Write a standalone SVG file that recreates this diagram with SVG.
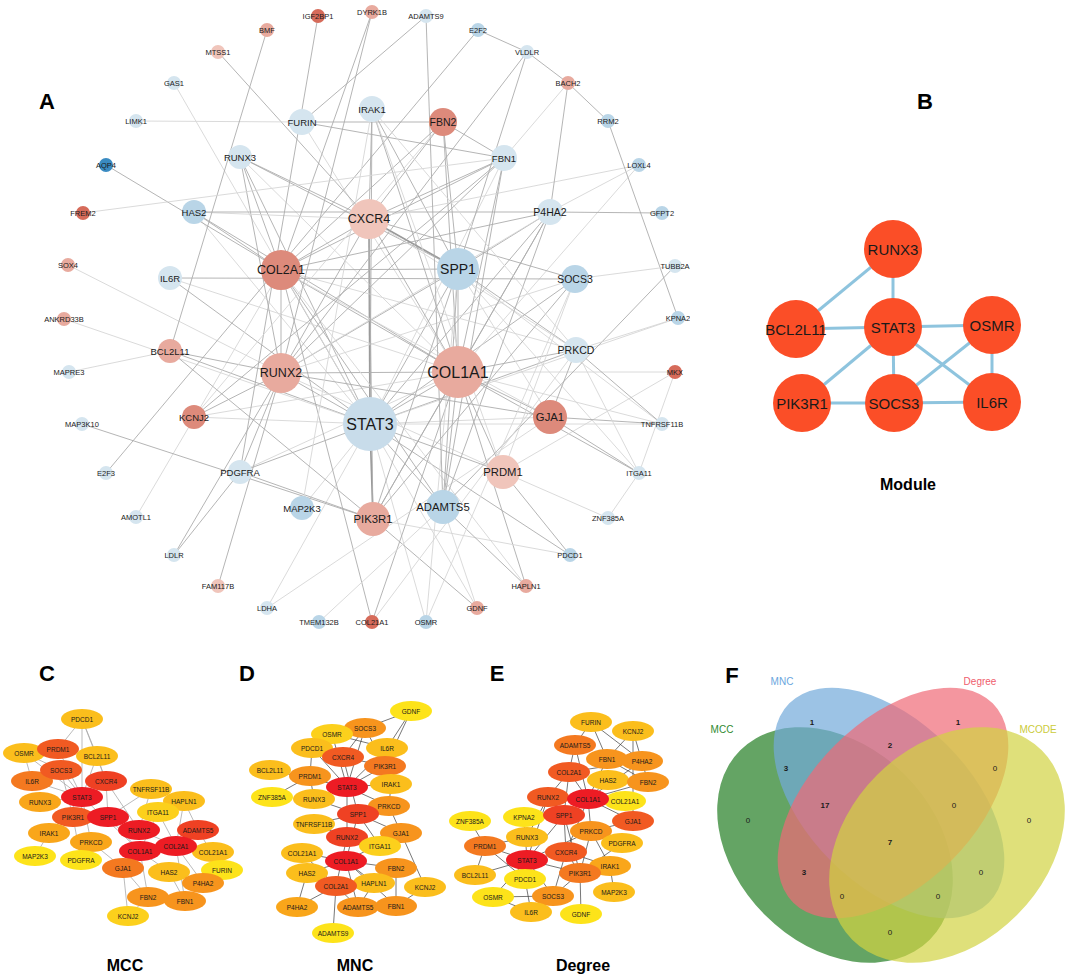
<svg xmlns="http://www.w3.org/2000/svg" width="1065" height="976" viewBox="0 0 1065 976">
<style>
text{font-family:"Liberation Sans",Arial,sans-serif;text-anchor:middle;dominant-baseline:central;fill:#1a1a1a}
.e{stroke:#adadad;stroke-width:0.9}
.f{stroke:#d6d6d6;stroke-width:0.9}
.g{stroke:#9a9a9a;stroke-width:1.7}
.k{stroke:#aaaaaa;stroke-width:0.8}
.m{stroke:#3c3c3c;stroke-width:0.7}
.bl{stroke:#8ec4de;stroke-width:3}
.lb{fill:#d5e5ef}.mb{fill:#b9d5e7}.db{fill:#3a8bc2}.lp{fill:#f0c5bb}.pk{fill:#e8aa9e}.dp{fill:#dd8a7b}.dr{fill:#d66b5a}
.t1{font-size:7.5px}.t2{font-size:9.5px}.t3{font-size:10.5px}.t4{font-size:11.3px}.t5{font-size:12.5px}.t6{font-size:14px}.t7{font-size:16px}
.s{font-size:6.5px}
.pl{font-size:22px;font-weight:bold;fill:#000}
.cap{font-size:16px;font-weight:bold;fill:#000}
.bn{fill:#fb4e27}
.bt{font-size:15px}
.vn{font-size:8px}.vb{font-size:8px;font-weight:bold}
.r1{fill:#ed1c24}.r2{fill:#ef4123}.r3{fill:#f15a22}.o1{fill:#f47920}.o2{fill:#f7941d}.o3{fill:#f9a61a}.y1{fill:#fbbe1c}.y2{fill:#fcd01c}.y3{fill:#fde31a}
</style>
<defs>
<clipPath id="clipA"><rect x="0" y="0" width="690" height="640"/></clipPath>
</defs>

<!-- Panel labels -->
<text class="pl" x="47" y="101">A</text>
<text class="pl" x="925" y="101">B</text>
<text class="pl" x="47" y="673">C</text>
<text class="pl" x="247" y="673">D</text>
<text class="pl" x="497" y="673">E</text>
<text class="pl" x="732" y="675">F</text>

<g id="connectors">
<g id="connectors-A" clip-path="url(#clipA)">
<line class="g" x1="370" y1="424" x2="369" y2="219"/>
<line class="e" x1="370" y1="424" x2="458" y2="269"/>
<line class="e" x1="370" y1="424" x2="458" y2="372"/>
<line class="e" x1="370" y1="424" x2="281" y2="270"/>
<line class="e" x1="370" y1="424" x2="281" y2="373"/>
<line class="g" x1="370" y1="424" x2="373" y2="519"/>
<line class="e" x1="370" y1="424" x2="575" y2="279"/>
<line class="e" x1="370" y1="424" x2="170" y2="278"/>
<line class="f" x1="370" y1="424" x2="194" y2="417"/>
<line class="e" x1="370" y1="424" x2="240" y2="472"/>
<line class="e" x1="370" y1="424" x2="503" y2="472"/>
<line class="f" x1="370" y1="424" x2="550" y2="417"/>
<line class="e" x1="370" y1="424" x2="576" y2="350"/>
<line class="e" x1="370" y1="424" x2="170" y2="351"/>
<line class="e" x1="370" y1="424" x2="372" y2="109"/>
<line class="e" x1="370" y1="424" x2="240" y2="157"/>
<line class="f" x1="370" y1="424" x2="174" y2="83"/>
<line class="f" x1="370" y1="424" x2="64" y2="319"/>
<line class="f" x1="370" y1="424" x2="426" y2="622"/>
<line class="e" x1="370" y1="424" x2="570" y2="555"/>
<line class="f" x1="370" y1="424" x2="678" y2="318"/>
<line class="f" x1="370" y1="424" x2="302" y2="508"/>
<line class="f" x1="370" y1="424" x2="504" y2="158"/>
<line class="e" x1="370" y1="424" x2="550" y2="212"/>
<line class="f" x1="370" y1="424" x2="194" y2="212"/>
<line class="e" x1="370" y1="424" x2="443" y2="507"/>
<line class="f" x1="370" y1="424" x2="267" y2="608"/>
<line class="f" x1="370" y1="424" x2="477" y2="608"/>
<line class="f" x1="370" y1="424" x2="662" y2="424"/>
<line class="e" x1="458" y1="372" x2="281" y2="270"/>
<line class="e" x1="458" y1="372" x2="458" y2="269"/>
<line class="e" x1="458" y1="372" x2="281" y2="373"/>
<line class="e" x1="458" y1="372" x2="369" y2="219"/>
<line class="e" x1="458" y1="372" x2="504" y2="158"/>
<line class="e" x1="458" y1="372" x2="443" y2="122"/>
<line class="e" x1="458" y1="372" x2="550" y2="212"/>
<line class="e" x1="458" y1="372" x2="194" y2="212"/>
<line class="e" x1="458" y1="372" x2="550" y2="417"/>
<line class="f" x1="458" y1="372" x2="675" y2="372"/>
<line class="e" x1="458" y1="372" x2="576" y2="350"/>
<line class="f" x1="458" y1="372" x2="662" y2="424"/>
<line class="e" x1="458" y1="372" x2="639" y2="473"/>
<line class="e" x1="458" y1="372" x2="443" y2="507"/>
<line class="e" x1="458" y1="372" x2="372" y2="622"/>
<line class="e" x1="458" y1="372" x2="373" y2="519"/>
<line class="f" x1="458" y1="372" x2="302" y2="122"/>
<line class="e" x1="458" y1="372" x2="372" y2="109"/>
<line class="f" x1="458" y1="372" x2="240" y2="157"/>
<line class="f" x1="458" y1="372" x2="170" y2="278"/>
<line class="e" x1="458" y1="372" x2="526" y2="586"/>
<line class="f" x1="458" y1="372" x2="194" y2="417"/>
<line class="f" x1="458" y1="372" x2="240" y2="472"/>
<line class="e" x1="458" y1="372" x2="503" y2="472"/>
<line class="f" x1="458" y1="372" x2="639" y2="165"/>
<line class="e" x1="281" y1="270" x2="458" y2="269"/>
<line class="e" x1="281" y1="270" x2="281" y2="373"/>
<line class="e" x1="281" y1="270" x2="194" y2="212"/>
<line class="e" x1="281" y1="270" x2="369" y2="219"/>
<line class="e" x1="281" y1="270" x2="504" y2="158"/>
<line class="e" x1="281" y1="270" x2="443" y2="122"/>
<line class="e" x1="281" y1="270" x2="550" y2="212"/>
<line class="e" x1="281" y1="270" x2="106" y2="165"/>
<line class="e" x1="281" y1="270" x2="443" y2="507"/>
<line class="f" x1="281" y1="270" x2="526" y2="586"/>
<line class="e" x1="281" y1="270" x2="372" y2="622"/>
<line class="f" x1="281" y1="270" x2="550" y2="417"/>
<line class="e" x1="281" y1="270" x2="240" y2="157"/>
<line class="e" x1="281" y1="270" x2="372" y2="12"/>
<line class="f" x1="281" y1="270" x2="576" y2="350"/>
<line class="f" x1="281" y1="270" x2="136" y2="517"/>
<line class="g" x1="458" y1="269" x2="369" y2="219"/>
<line class="e" x1="458" y1="269" x2="281" y2="373"/>
<line class="e" x1="458" y1="269" x2="443" y2="122"/>
<line class="e" x1="458" y1="269" x2="372" y2="109"/>
<line class="e" x1="458" y1="269" x2="550" y2="212"/>
<line class="e" x1="458" y1="269" x2="576" y2="350"/>
<line class="f" x1="458" y1="269" x2="550" y2="417"/>
<line class="e" x1="458" y1="269" x2="373" y2="519"/>
<line class="e" x1="458" y1="269" x2="443" y2="507"/>
<line class="f" x1="458" y1="269" x2="662" y2="424"/>
<line class="f" x1="458" y1="269" x2="639" y2="473"/>
<line class="e" x1="458" y1="269" x2="527" y2="52"/>
<line class="e" x1="458" y1="269" x2="240" y2="157"/>
<line class="f" x1="458" y1="269" x2="426" y2="622"/>
<line class="e" x1="281" y1="373" x2="369" y2="219"/>
<line class="e" x1="281" y1="373" x2="240" y2="157"/>
<line class="f" x1="281" y1="373" x2="68" y2="265"/>
<line class="e" x1="281" y1="373" x2="170" y2="351"/>
<line class="e" x1="281" y1="373" x2="240" y2="472"/>
<line class="e" x1="281" y1="373" x2="218" y2="586"/>
<line class="e" x1="281" y1="373" x2="174" y2="555"/>
<line class="e" x1="281" y1="373" x2="550" y2="417"/>
<line class="f" x1="281" y1="373" x2="503" y2="472"/>
<line class="e" x1="281" y1="373" x2="504" y2="158"/>
<line class="f" x1="281" y1="373" x2="550" y2="212"/>
<line class="f" x1="281" y1="373" x2="575" y2="279"/>
<line class="e" x1="281" y1="373" x2="194" y2="417"/>
<line class="e" x1="281" y1="373" x2="372" y2="12"/>
<line class="e" x1="281" y1="373" x2="527" y2="52"/>
<line class="e" x1="369" y1="219" x2="372" y2="109"/>
<line class="e" x1="369" y1="219" x2="443" y2="122"/>
<line class="e" x1="369" y1="219" x2="218" y2="52"/>
<line class="f" x1="369" y1="219" x2="639" y2="165"/>
<line class="e" x1="369" y1="219" x2="373" y2="519"/>
<line class="e" x1="369" y1="219" x2="575" y2="279"/>
<line class="f" x1="369" y1="219" x2="576" y2="350"/>
<line class="e" x1="369" y1="219" x2="240" y2="157"/>
<line class="f" x1="369" y1="219" x2="194" y2="212"/>
<line class="e" x1="369" y1="219" x2="504" y2="158"/>
<line class="f" x1="136" y1="121" x2="302" y2="122"/>
<line class="e" x1="302" y1="122" x2="443" y2="122"/>
<line class="e" x1="302" y1="122" x2="504" y2="158"/>
<line class="e" x1="302" y1="122" x2="426" y2="16"/>
<line class="e" x1="426" y1="16" x2="443" y2="507"/>
<line class="e" x1="318" y1="16" x2="240" y2="472"/>
<line class="e" x1="267" y1="30" x2="170" y2="351"/>
<line class="e" x1="478" y1="30" x2="106" y2="473"/>
<line class="e" x1="478" y1="30" x2="527" y2="52"/>
<line class="e" x1="527" y1="52" x2="568" y2="83"/>
<line class="e" x1="568" y1="83" x2="608" y2="121"/>
<line class="e" x1="568" y1="83" x2="550" y2="212"/>
<line class="f" x1="568" y1="83" x2="504" y2="158"/>
<line class="e" x1="608" y1="121" x2="678" y2="318"/>
<line class="f" x1="639" y1="165" x2="550" y2="212"/>
<line class="e" x1="662" y1="213" x2="550" y2="212"/>
<line class="e" x1="194" y1="212" x2="550" y2="212"/>
<line class="f" x1="675" y1="266" x2="575" y2="279"/>
<line class="e" x1="675" y1="266" x2="443" y2="507"/>
<line class="f" x1="678" y1="318" x2="576" y2="350"/>
<line class="f" x1="675" y1="372" x2="639" y2="473"/>
<line class="f" x1="675" y1="372" x2="503" y2="472"/>
<line class="f" x1="639" y1="473" x2="608" y2="518"/>
<line class="e" x1="550" y1="417" x2="662" y2="424"/>
<line class="e" x1="550" y1="417" x2="639" y2="473"/>
<line class="e" x1="550" y1="417" x2="576" y2="350"/>
<line class="e" x1="576" y1="350" x2="662" y2="424"/>
<line class="f" x1="576" y1="350" x2="639" y2="473"/>
<line class="f" x1="608" y1="518" x2="503" y2="472"/>
<line class="e" x1="570" y1="555" x2="503" y2="472"/>
<line class="f" x1="570" y1="555" x2="373" y2="519"/>
<line class="e" x1="526" y1="586" x2="443" y2="507"/>
<line class="e" x1="477" y1="608" x2="373" y2="519"/>
<line class="f" x1="477" y1="608" x2="443" y2="507"/>
<line class="f" x1="372" y1="622" x2="576" y2="350"/>
<line class="f" x1="319" y1="622" x2="443" y2="507"/>
<line class="f" x1="267" y1="608" x2="550" y2="417"/>
<line class="e" x1="174" y1="555" x2="240" y2="472"/>
<line class="e" x1="82" y1="424" x2="373" y2="519"/>
<line class="f" x1="69" y1="372" x2="170" y2="351"/>
<line class="f" x1="83" y1="213" x2="504" y2="158"/>
<line class="e" x1="170" y1="278" x2="575" y2="279"/>
<line class="e" x1="373" y1="519" x2="240" y2="472"/>
<line class="f" x1="302" y1="508" x2="372" y2="109"/>
<line class="e" x1="550" y1="212" x2="443" y2="507"/>
<line class="e" x1="550" y1="212" x2="373" y2="519"/>
<line class="e" x1="504" y1="158" x2="443" y2="122"/>
<line class="e" x1="504" y1="158" x2="443" y2="507"/>
<line class="e" x1="575" y1="279" x2="373" y2="519"/>
<line class="f" x1="575" y1="279" x2="503" y2="472"/>
<line class="e" x1="170" y1="351" x2="373" y2="519"/>
<line class="f" x1="194" y1="417" x2="443" y2="122"/>
<line class="e" x1="194" y1="417" x2="504" y2="158"/>
<line class="f" x1="372" y1="109" x2="576" y2="350"/>
<line class="f" x1="372" y1="109" x2="503" y2="472"/>
<line class="f" x1="426" y1="622" x2="575" y2="279"/>
</g>
<g id="connectors-B">
<line class="bl" x1="893" y1="249" x2="796" y2="329"/>
<line class="bl" x1="893" y1="249" x2="893" y2="327"/>
<line class="bl" x1="796" y1="329" x2="893" y2="327"/>
<line class="bl" x1="893" y1="327" x2="992" y2="325"/>
<line class="bl" x1="893" y1="327" x2="802" y2="403"/>
<line class="bl" x1="893" y1="327" x2="894" y2="403"/>
<line class="bl" x1="893" y1="327" x2="992" y2="402"/>
<line class="bl" x1="992" y1="325" x2="894" y2="403"/>
<line class="bl" x1="992" y1="325" x2="992" y2="402"/>
<line class="bl" x1="802" y1="403" x2="894" y2="403"/>
<line class="bl" x1="894" y1="403" x2="992" y2="402"/>
</g>
<g id="connectors-C">
<line class="k" x1="82" y1="719" x2="58" y2="749"/>
<line class="k" x1="82" y1="719" x2="97" y2="756"/>
<line class="k" x1="82" y1="719" x2="82" y2="797"/>
<line class="k" x1="82" y1="719" x2="106" y2="781"/>
<line class="k" x1="24" y1="753" x2="61" y2="770"/>
<line class="k" x1="24" y1="753" x2="32" y2="781"/>
<line class="k" x1="24" y1="753" x2="82" y2="797"/>
<line class="k" x1="58" y1="749" x2="82" y2="797"/>
<line class="k" x1="97" y1="756" x2="82" y2="797"/>
<line class="k" x1="97" y1="756" x2="106" y2="781"/>
<line class="k" x1="61" y1="770" x2="82" y2="797"/>
<line class="k" x1="61" y1="770" x2="73" y2="817"/>
<line class="k" x1="32" y1="781" x2="82" y2="797"/>
<line class="k" x1="106" y1="781" x2="108" y2="817"/>
<line class="k" x1="106" y1="781" x2="73" y2="817"/>
<line class="k" x1="106" y1="781" x2="139" y2="830"/>
<line class="k" x1="82" y1="797" x2="40" y2="802"/>
<line class="k" x1="82" y1="797" x2="49" y2="833"/>
<line class="k" x1="82" y1="797" x2="91" y2="842"/>
<line class="k" x1="82" y1="797" x2="140" y2="851"/>
<line class="k" x1="151" y1="789" x2="108" y2="817"/>
<line class="k" x1="151" y1="789" x2="139" y2="830"/>
<line class="k" x1="184" y1="801" x2="198" y2="830"/>
<line class="k" x1="184" y1="801" x2="176" y2="846"/>
<line class="k" x1="158" y1="812" x2="140" y2="851"/>
<line class="k" x1="158" y1="812" x2="176" y2="846"/>
<line class="k" x1="108" y1="817" x2="140" y2="851"/>
<line class="k" x1="73" y1="817" x2="81" y2="860"/>
<line class="k" x1="73" y1="817" x2="49" y2="833"/>
<line class="k" x1="91" y1="842" x2="123" y2="868"/>
<line class="k" x1="49" y1="833" x2="35" y2="856"/>
<line class="k" x1="140" y1="851" x2="123" y2="868"/>
<line class="k" x1="140" y1="851" x2="169" y2="872"/>
<line class="k" x1="140" y1="851" x2="148" y2="897"/>
<line class="k" x1="176" y1="846" x2="198" y2="830"/>
<line class="k" x1="176" y1="846" x2="213" y2="852"/>
<line class="k" x1="176" y1="846" x2="203" y2="883"/>
<line class="k" x1="176" y1="846" x2="185" y2="901"/>
<line class="k" x1="203" y1="883" x2="185" y2="901"/>
<line class="k" x1="169" y1="872" x2="185" y2="901"/>
<line class="k" x1="148" y1="897" x2="128" y2="916"/>
<line class="k" x1="123" y1="868" x2="128" y2="916"/>
<line class="k" x1="123" y1="868" x2="148" y2="897"/>
<line class="k" x1="198" y1="830" x2="222" y2="870"/>
<line class="k" x1="139" y1="830" x2="176" y2="846"/>
</g>
<g id="connectors-D">
<line class="m" x1="411" y1="711" x2="365" y2="728"/>
<line class="m" x1="411" y1="711" x2="387" y2="748"/>
<line class="m" x1="411" y1="711" x2="385" y2="766"/>
<line class="m" x1="365" y1="728" x2="332" y2="734"/>
<line class="m" x1="365" y1="728" x2="347" y2="787"/>
<line class="m" x1="365" y1="728" x2="343" y2="757"/>
<line class="m" x1="365" y1="728" x2="385" y2="766"/>
<line class="m" x1="332" y1="734" x2="387" y2="748"/>
<line class="m" x1="332" y1="734" x2="347" y2="787"/>
<line class="m" x1="312" y1="748" x2="310" y2="776"/>
<line class="m" x1="312" y1="748" x2="347" y2="787"/>
<line class="m" x1="387" y1="748" x2="347" y2="787"/>
<line class="m" x1="343" y1="757" x2="358" y2="814"/>
<line class="m" x1="343" y1="757" x2="385" y2="766"/>
<line class="m" x1="385" y1="766" x2="347" y2="787"/>
<line class="m" x1="270" y1="770" x2="347" y2="787"/>
<line class="m" x1="310" y1="776" x2="314" y2="799"/>
<line class="m" x1="391" y1="784" x2="347" y2="787"/>
<line class="m" x1="391" y1="784" x2="389" y2="806"/>
<line class="m" x1="272" y1="797" x2="310" y2="776"/>
<line class="m" x1="314" y1="799" x2="358" y2="814"/>
<line class="m" x1="389" y1="806" x2="347" y2="787"/>
<line class="m" x1="389" y1="806" x2="401" y2="833"/>
<line class="m" x1="347" y1="787" x2="347" y2="837"/>
<line class="m" x1="358" y1="814" x2="314" y2="824"/>
<line class="m" x1="358" y1="814" x2="401" y2="833"/>
<line class="m" x1="358" y1="814" x2="380" y2="846"/>
<line class="m" x1="358" y1="814" x2="346" y2="861"/>
<line class="m" x1="314" y1="824" x2="347" y2="837"/>
<line class="m" x1="401" y1="833" x2="346" y2="861"/>
<line class="m" x1="401" y1="833" x2="425" y2="887"/>
<line class="m" x1="347" y1="837" x2="336" y2="886"/>
<line class="m" x1="302" y1="853" x2="346" y2="861"/>
<line class="m" x1="302" y1="853" x2="336" y2="886"/>
<line class="m" x1="346" y1="861" x2="396" y2="868"/>
<line class="m" x1="346" y1="861" x2="307" y2="873"/>
<line class="m" x1="346" y1="861" x2="374" y2="883"/>
<line class="m" x1="346" y1="861" x2="396" y2="906"/>
<line class="m" x1="346" y1="861" x2="358" y2="907"/>
<line class="m" x1="307" y1="873" x2="297" y2="907"/>
<line class="m" x1="336" y1="886" x2="297" y2="907"/>
<line class="m" x1="336" y1="886" x2="358" y2="907"/>
<line class="m" x1="336" y1="886" x2="333" y2="933"/>
<line class="m" x1="396" y1="868" x2="396" y2="906"/>
<line class="m" x1="396" y1="906" x2="425" y2="887"/>
<line class="m" x1="358" y1="907" x2="396" y2="906"/>
<line class="m" x1="374" y1="883" x2="358" y2="907"/>
<line class="m" x1="307" y1="873" x2="336" y2="886"/>
</g>
<g id="connectors-E">
<line class="m" x1="591" y1="722" x2="607" y2="759"/>
<line class="m" x1="591" y1="722" x2="575" y2="745"/>
<line class="m" x1="591" y1="722" x2="642" y2="761"/>
<line class="m" x1="633" y1="731" x2="607" y2="759"/>
<line class="m" x1="633" y1="731" x2="648" y2="782"/>
<line class="m" x1="633" y1="731" x2="633" y2="821"/>
<line class="m" x1="575" y1="745" x2="569" y2="772"/>
<line class="m" x1="575" y1="745" x2="588" y2="799"/>
<line class="m" x1="607" y1="759" x2="648" y2="782"/>
<line class="m" x1="607" y1="759" x2="588" y2="799"/>
<line class="m" x1="642" y1="761" x2="588" y2="799"/>
<line class="m" x1="642" y1="761" x2="569" y2="772"/>
<line class="m" x1="569" y1="772" x2="548" y2="797"/>
<line class="m" x1="569" y1="772" x2="588" y2="799"/>
<line class="m" x1="569" y1="772" x2="564" y2="815"/>
<line class="m" x1="608" y1="780" x2="588" y2="799"/>
<line class="m" x1="648" y1="782" x2="588" y2="799"/>
<line class="m" x1="548" y1="797" x2="588" y2="799"/>
<line class="m" x1="548" y1="797" x2="527" y2="860"/>
<line class="m" x1="548" y1="797" x2="527" y2="837"/>
<line class="m" x1="588" y1="799" x2="564" y2="815"/>
<line class="m" x1="588" y1="799" x2="633" y2="821"/>
<line class="m" x1="588" y1="799" x2="591" y2="831"/>
<line class="m" x1="588" y1="799" x2="566" y2="852"/>
<line class="m" x1="470" y1="821" x2="485" y2="846"/>
<line class="m" x1="524" y1="817" x2="527" y2="860"/>
<line class="m" x1="564" y1="815" x2="527" y2="860"/>
<line class="m" x1="564" y1="815" x2="566" y2="852"/>
<line class="m" x1="564" y1="815" x2="580" y2="873"/>
<line class="m" x1="633" y1="821" x2="591" y2="831"/>
<line class="m" x1="591" y1="831" x2="527" y2="860"/>
<line class="m" x1="591" y1="831" x2="610" y2="866"/>
<line class="m" x1="591" y1="831" x2="580" y2="873"/>
<line class="m" x1="527" y1="837" x2="485" y2="846"/>
<line class="m" x1="622" y1="843" x2="580" y2="873"/>
<line class="m" x1="485" y1="846" x2="527" y2="860"/>
<line class="m" x1="485" y1="846" x2="475" y2="875"/>
<line class="m" x1="485" y1="846" x2="525" y2="879"/>
<line class="m" x1="566" y1="852" x2="527" y2="860"/>
<line class="m" x1="566" y1="852" x2="580" y2="873"/>
<line class="m" x1="566" y1="852" x2="553" y2="896"/>
<line class="m" x1="566" y1="852" x2="610" y2="866"/>
<line class="m" x1="527" y1="860" x2="475" y2="875"/>
<line class="m" x1="527" y1="860" x2="493" y2="897"/>
<line class="m" x1="527" y1="860" x2="553" y2="896"/>
<line class="m" x1="527" y1="860" x2="580" y2="873"/>
<line class="m" x1="610" y1="866" x2="614" y2="892"/>
<line class="m" x1="580" y1="873" x2="581" y2="914"/>
<line class="m" x1="580" y1="873" x2="553" y2="896"/>
<line class="m" x1="493" y1="897" x2="553" y2="896"/>
<line class="m" x1="493" y1="897" x2="531" y2="912"/>
<line class="m" x1="553" y1="896" x2="531" y2="912"/>
<line class="m" x1="525" y1="879" x2="531" y2="912"/>
</g>
</g>

<!-- Panel A nodes -->
<g id="panelA" clip-path="url(#clipA)">
<g id="a-IGF2BP1"><circle class="dr" cx="318" cy="16" r="7"/><text class="t1" x="318" y="16">IGF2BP1</text></g>
<g id="a-BMF"><circle class="pk" cx="267" cy="30" r="7"/><text class="t1" x="267" y="30">BMF</text></g>
<g id="a-DYRK1B"><circle class="pk" cx="372" cy="12" r="7"/><text class="t1" x="372" y="12">DYRK1B</text></g>
<g id="a-ADAMTS9"><circle class="lb" cx="426" cy="16" r="7"/><text class="t1" x="426" y="16">ADAMTS9</text></g>
<g id="a-E2F2"><circle class="mb" cx="478" cy="30" r="7"/><text class="t1" x="478" y="30">E2F2</text></g>
<g id="a-MTSS1"><circle class="lp" cx="218" cy="52" r="7"/><text class="t1" x="218" y="52">MTSS1</text></g>
<g id="a-VLDLR"><circle class="lb" cx="527" cy="52" r="7"/><text class="t1" x="527" y="52">VLDLR</text></g>
<g id="a-GAS1"><circle class="lb" cx="174" cy="83" r="7"/><text class="t1" x="174" y="83">GAS1</text></g>
<g id="a-BACH2"><circle class="pk" cx="568" cy="83" r="7"/><text class="t1" x="568" y="83">BACH2</text></g>
<g id="a-LIMK1"><circle class="lb" cx="136" cy="121" r="7"/><text class="t1" x="136" y="121">LIMK1</text></g>
<g id="a-RRM2"><circle class="mb" cx="608" cy="121" r="7"/><text class="t1" x="608" y="121">RRM2</text></g>
<g id="a-AQP4"><circle class="db" cx="106" cy="165" r="7"/><text class="t1" x="106" y="165">AQP4</text></g>
<g id="a-LOXL4"><circle class="mb" cx="639" cy="165" r="7"/><text class="t1" x="639" y="165">LOXL4</text></g>
<g id="a-FREM2"><circle class="dr" cx="83" cy="213" r="7"/><text class="t1" x="83" y="213">FREM2</text></g>
<g id="a-GFPT2"><circle class="mb" cx="662" cy="213" r="7"/><text class="t1" x="662" y="213">GFPT2</text></g>
<g id="a-SOX4"><circle class="pk" cx="68" cy="265" r="7"/><text class="t1" x="68" y="265">SOX4</text></g>
<g id="a-TUBB2A"><circle class="lb" cx="675" cy="266" r="7"/><text class="t1" x="675" y="266">TUBB2A</text></g>
<g id="a-ANKRD33B"><circle class="pk" cx="64" cy="319" r="7"/><text class="t1" x="64" y="319">ANKRD33B</text></g>
<g id="a-KPNA2"><circle class="mb" cx="678" cy="318" r="7"/><text class="t1" x="678" y="318">KPNA2</text></g>
<g id="a-MAPRE3"><circle class="lb" cx="69" cy="372" r="7"/><text class="t1" x="69" y="372">MAPRE3</text></g>
<g id="a-MKX"><circle class="dr" cx="675" cy="372" r="7"/><text class="t1" x="675" y="372">MKX</text></g>
<g id="a-MAP3K10"><circle class="lb" cx="82" cy="424" r="7"/><text class="t1" x="82" y="424">MAP3K10</text></g>
<g id="a-TNFRSF11B"><circle class="lb" cx="662" cy="424" r="7"/><text class="t1" x="662" y="424">TNFRSF11B</text></g>
<g id="a-E2F3"><circle class="lb" cx="106" cy="473" r="7"/><text class="t1" x="106" y="473">E2F3</text></g>
<g id="a-ITGA11"><circle class="lb" cx="639" cy="473" r="7"/><text class="t1" x="639" y="473">ITGA11</text></g>
<g id="a-AMOTL1"><circle class="lb" cx="136" cy="517" r="7"/><text class="t1" x="136" y="517">AMOTL1</text></g>
<g id="a-ZNF385A"><circle class="lb" cx="608" cy="518" r="7"/><text class="t1" x="608" y="518">ZNF385A</text></g>
<g id="a-LDLR"><circle class="lb" cx="174" cy="555" r="7"/><text class="t1" x="174" y="555">LDLR</text></g>
<g id="a-PDCD1"><circle class="mb" cx="570" cy="555" r="7"/><text class="t1" x="570" y="555">PDCD1</text></g>
<g id="a-FAM117B"><circle class="lp" cx="218" cy="586" r="7"/><text class="t1" x="218" y="586">FAM117B</text></g>
<g id="a-HAPLN1"><circle class="pk" cx="526" cy="586" r="7"/><text class="t1" x="526" y="586">HAPLN1</text></g>
<g id="a-LDHA"><circle class="lb" cx="267" cy="608" r="7"/><text class="t1" x="267" y="608">LDHA</text></g>
<g id="a-GDNF"><circle class="pk" cx="477" cy="608" r="7"/><text class="t1" x="477" y="608">GDNF</text></g>
<g id="a-TMEM132B"><circle class="mb" cx="319" cy="622" r="7"/><text class="t1" x="319" y="622">TMEM132B</text></g>
<g id="a-OSMR"><circle class="mb" cx="426" cy="622" r="7"/><text class="t1" x="426" y="622">OSMR</text></g>
<g id="a-COL21A1"><circle class="dr" cx="372" cy="622" r="7"/><text class="t1" x="372" y="622">COL21A1</text></g>
<g id="a-FURIN"><circle class="lb" cx="302" cy="122" r="13"/><text class="t2" x="302" y="122">FURIN</text></g>
<g id="a-IRAK1"><circle class="lb" cx="372" cy="109" r="13"/><text class="t2" x="372" y="109">IRAK1</text></g>
<g id="a-FBN2"><circle class="dp" cx="443" cy="122" r="14"/><text class="t3" x="443" y="122">FBN2</text></g>
<g id="a-RUNX3"><circle class="lb" cx="240" cy="157" r="12"/><text class="t2" x="240" y="157">RUNX3</text></g>
<g id="a-FBN1"><circle class="lb" cx="504" cy="158" r="13"/><text class="t2" x="504" y="158">FBN1</text></g>
<g id="a-HAS2"><circle class="mb" cx="194" cy="212" r="12"/><text class="t2" x="194" y="212">HAS2</text></g>
<g id="a-P4HA2"><circle class="lb" cx="550" cy="212" r="13"/><text class="t3" x="550" y="212">P4HA2</text></g>
<g id="a-IL6R"><circle class="lb" cx="170" cy="278" r="12"/><text class="t2" x="170" y="278">IL6R</text></g>
<g id="a-SOCS3"><circle class="mb" cx="575" cy="279" r="14"/><text class="t3" x="575" y="279">SOCS3</text></g>
<g id="a-BCL2L11"><circle class="pk" cx="170" cy="351" r="12"/><text class="t2" x="170" y="351">BCL2L11</text></g>
<g id="a-PRKCD"><circle class="lb" cx="576" cy="350" r="13"/><text class="t3" x="576" y="350">PRKCD</text></g>
<g id="a-KCNJ2"><circle class="dp" cx="194" cy="417" r="12"/><text class="t2" x="194" y="417">KCNJ2</text></g>
<g id="a-GJA1"><circle class="dp" cx="550" cy="417" r="17"/><text class="t4" x="550" y="417">GJA1</text></g>
<g id="a-PDGFRA"><circle class="lb" cx="240" cy="472" r="12"/><text class="t2" x="240" y="472">PDGFRA</text></g>
<g id="a-PRDM1"><circle class="lp" cx="503" cy="472" r="17"/><text class="t4" x="503" y="472">PRDM1</text></g>
<g id="a-MAP2K3"><circle class="mb" cx="302" cy="508" r="12"/><text class="t2" x="302" y="508">MAP2K3</text></g>
<g id="a-ADAMTS5"><circle class="mb" cx="443" cy="507" r="17"/><text class="t4" x="443" y="507">ADAMTS5</text></g>
<g id="a-PIK3R1"><circle class="pk" cx="373" cy="519" r="17"/><text class="t4" x="373" y="519">PIK3R1</text></g>
<g id="a-CXCR4"><circle class="lp" cx="369" cy="219" r="20"/><text class="t5" x="369" y="219">CXCR4</text></g>
<g id="a-COL2A1"><circle class="dp" cx="281" cy="270" r="20"/><text class="t5" x="281" y="270">COL2A1</text></g>
<g id="a-SPP1"><circle class="mb" cx="458" cy="269" r="21"/><text class="t6" x="458" y="269">SPP1</text></g>
<g id="a-RUNX2"><circle class="pk" cx="281" cy="373" r="20"/><text class="t5" x="281" y="373">RUNX2</text></g>
<g id="a-COL1A1"><circle class="pk" cx="458" cy="372" r="26"/><text class="t7" x="458" y="372">COL1A1</text></g>
<g id="a-STAT3"><circle fill="#c8dcea" cx="370" cy="424" r="27"/><text class="t7" x="370" y="424">STAT3</text></g>
</g>

<!-- Panel B -->
<g id="b-RUNX3"><circle class="bn" cx="893" cy="249" r="29"/><text class="bt" x="893" y="249">RUNX3</text></g>
<g id="b-BCL2L11"><circle class="bn" cx="796" cy="329" r="29"/><text class="bt" x="796" y="329">BCL2L11</text></g>
<g id="b-STAT3"><circle class="bn" cx="893" cy="327" r="29"/><text class="bt" x="893" y="327">STAT3</text></g>
<g id="b-OSMR"><circle class="bn" cx="992" cy="325" r="29"/><text class="bt" x="992" y="325">OSMR</text></g>
<g id="b-PIK3R1"><circle class="bn" cx="802" cy="403" r="29"/><text class="bt" x="802" y="403">PIK3R1</text></g>
<g id="b-SOCS3"><circle class="bn" cx="894" cy="403" r="29"/><text class="bt" x="894" y="403">SOCS3</text></g>
<g id="b-IL6R"><circle class="bn" cx="992" cy="402" r="29"/><text class="bt" x="992" y="402">IL6R</text></g>
<text class="cap" x="908" y="484">Module</text>

<!-- Panel C -->
<g id="panelC">
<g id="c-PDCD1"><ellipse class="y1" cx="82" cy="719" rx="21" ry="10"/><text class="s" x="82" y="719">PDCD1</text></g>
<g id="c-OSMR"><ellipse class="y1" cx="24" cy="753" rx="21" ry="10"/><text class="s" x="24" y="753">OSMR</text></g>
<g id="c-PRDM1"><ellipse class="r3" cx="58" cy="749" rx="21" ry="10"/><text class="s" x="58" y="749">PRDM1</text></g>
<g id="c-BCL2L11"><ellipse class="y1" cx="97" cy="756" rx="21" ry="10"/><text class="s" x="97" y="756">BCL2L11</text></g>
<g id="c-IL6R"><ellipse class="o1" cx="32" cy="781" rx="21" ry="10"/><text class="s" x="32" y="781">IL6R</text></g>
<g id="c-SOCS3"><ellipse class="r3" cx="61" cy="770" rx="21" ry="10"/><text class="s" x="61" y="770">SOCS3</text></g>
<g id="c-CXCR4"><ellipse class="r2" cx="106" cy="781" rx="21" ry="10"/><text class="s" x="106" y="781">CXCR4</text></g>
<g id="c-TNFRSF11B"><ellipse class="y1" cx="151" cy="789" rx="21" ry="10"/><text class="s" x="151" y="789">TNFRSF11B</text></g>
<g id="c-RUNX3"><ellipse class="o3" cx="40" cy="802" rx="21" ry="10"/><text class="s" x="40" y="802">RUNX3</text></g>
<g id="c-STAT3"><ellipse class="r1" cx="82" cy="797" rx="21" ry="10"/><text class="s" x="82" y="797">STAT3</text></g>
<g id="c-HAPLN1"><ellipse class="y1" cx="184" cy="801" rx="21" ry="10"/><text class="s" x="184" y="801">HAPLN1</text></g>
<g id="c-ITGA11"><ellipse class="y2" cx="158" cy="812" rx="21" ry="10"/><text class="s" x="158" y="812">ITGA11</text></g>
<g id="c-PIK3R1"><ellipse class="r3" cx="73" cy="817" rx="21" ry="10"/><text class="s" x="73" y="817">PIK3R1</text></g>
<g id="c-SPP1"><ellipse class="r1" cx="108" cy="817" rx="21" ry="10"/><text class="s" x="108" y="817">SPP1</text></g>
<g id="c-RUNX2"><ellipse class="r1" cx="139" cy="830" rx="21" ry="10"/><text class="s" x="139" y="830">RUNX2</text></g>
<g id="c-ADAMTS5"><ellipse class="r2" cx="198" cy="830" rx="21" ry="10"/><text class="s" x="198" y="830">ADAMTS5</text></g>
<g id="c-IRAK1"><ellipse class="o3" cx="49" cy="833" rx="21" ry="10"/><text class="s" x="49" y="833">IRAK1</text></g>
<g id="c-PRKCD"><ellipse class="o3" cx="91" cy="842" rx="21" ry="10"/><text class="s" x="91" y="842">PRKCD</text></g>
<g id="c-COL21A1"><ellipse class="y1" cx="213" cy="852" rx="21" ry="10"/><text class="s" x="213" y="852">COL21A1</text></g>
<g id="c-COL2A1"><ellipse class="r1" cx="176" cy="846" rx="21" ry="10"/><text class="s" x="176" y="846">COL2A1</text></g>
<g id="c-COL1A1"><ellipse class="r1" cx="140" cy="851" rx="21" ry="10"/><text class="s" x="140" y="851">COL1A1</text></g>
<g id="c-MAP2K3"><ellipse class="y3" cx="35" cy="856" rx="21" ry="10"/><text class="s" x="35" y="856">MAP2K3</text></g>
<g id="c-PDGFRA"><ellipse class="y3" cx="81" cy="860" rx="21" ry="10"/><text class="s" x="81" y="860">PDGFRA</text></g>
<g id="c-FURIN"><ellipse class="y3" cx="222" cy="870" rx="21" ry="10"/><text class="s" x="222" y="870">FURIN</text></g>
<g id="c-GJA1"><ellipse class="o1" cx="123" cy="868" rx="21" ry="10"/><text class="s" x="123" y="868">GJA1</text></g>
<g id="c-HAS2"><ellipse class="y1" cx="169" cy="872" rx="21" ry="10"/><text class="s" x="169" y="872">HAS2</text></g>
<g id="c-P4HA2"><ellipse class="o2" cx="203" cy="883" rx="21" ry="10"/><text class="s" x="203" y="883">P4HA2</text></g>
<g id="c-FBN1"><ellipse class="o2" cx="185" cy="901" rx="21" ry="10"/><text class="s" x="185" y="901">FBN1</text></g>
<g id="c-FBN2"><ellipse class="o2" cx="148" cy="897" rx="21" ry="10"/><text class="s" x="148" y="897">FBN2</text></g>
<g id="c-KCNJ2"><ellipse class="y2" cx="128" cy="916" rx="21" ry="10"/><text class="s" x="128" y="916">KCNJ2</text></g>
</g>
<text class="cap" x="125" y="965">MCC</text>

<!-- Panel D -->
<g id="panelD">
<g id="d-GDNF"><ellipse class="y3" cx="411" cy="711" rx="21" ry="10"/><text class="s" x="411" y="711">GDNF</text></g>
<g id="d-SOCS3"><ellipse class="o2" cx="365" cy="728" rx="21" ry="10"/><text class="s" x="365" y="728">SOCS3</text></g>
<g id="d-OSMR"><ellipse class="y2" cx="332" cy="734" rx="21" ry="10"/><text class="s" x="332" y="734">OSMR</text></g>
<g id="d-PDCD1"><ellipse class="y1" cx="312" cy="748" rx="21" ry="10"/><text class="s" x="312" y="748">PDCD1</text></g>
<g id="d-IL6R"><ellipse class="y1" cx="387" cy="748" rx="21" ry="10"/><text class="s" x="387" y="748">IL6R</text></g>
<g id="d-CXCR4"><ellipse class="r3" cx="343" cy="757" rx="21" ry="10"/><text class="s" x="343" y="757">CXCR4</text></g>
<g id="d-PIK3R1"><ellipse class="o1" cx="385" cy="766" rx="21" ry="10"/><text class="s" x="385" y="766">PIK3R1</text></g>
<g id="d-BCL2L11"><ellipse class="y1" cx="270" cy="770" rx="21" ry="10"/><text class="s" x="270" y="770">BCL2L11</text></g>
<g id="d-PRDM1"><ellipse class="o2" cx="310" cy="776" rx="21" ry="10"/><text class="s" x="310" y="776">PRDM1</text></g>
<g id="d-IRAK1"><ellipse class="y1" cx="391" cy="784" rx="21" ry="10"/><text class="s" x="391" y="784">IRAK1</text></g>
<g id="d-STAT3"><ellipse class="r1" cx="347" cy="787" rx="21" ry="10"/><text class="s" x="347" y="787">STAT3</text></g>
<g id="d-ZNF385A"><ellipse class="y3" cx="272" cy="797" rx="21" ry="10"/><text class="s" x="272" y="797">ZNF385A</text></g>
<g id="d-RUNX3"><ellipse class="y1" cx="314" cy="799" rx="21" ry="10"/><text class="s" x="314" y="799">RUNX3</text></g>
<g id="d-PRKCD"><ellipse class="o2" cx="389" cy="806" rx="21" ry="10"/><text class="s" x="389" y="806">PRKCD</text></g>
<g id="d-SPP1"><ellipse class="r2" cx="358" cy="814" rx="21" ry="10"/><text class="s" x="358" y="814">SPP1</text></g>
<g id="d-TNFRSF11B"><ellipse class="y1" cx="314" cy="824" rx="21" ry="10"/><text class="s" x="314" y="824">TNFRSF11B</text></g>
<g id="d-GJA1"><ellipse class="o2" cx="401" cy="833" rx="21" ry="10"/><text class="s" x="401" y="833">GJA1</text></g>
<g id="d-RUNX2"><ellipse class="r2" cx="347" cy="837" rx="21" ry="10"/><text class="s" x="347" y="837">RUNX2</text></g>
<g id="d-ITGA11"><ellipse class="y2" cx="380" cy="846" rx="21" ry="10"/><text class="s" x="380" y="846">ITGA11</text></g>
<g id="d-COL21A1"><ellipse class="y1" cx="302" cy="853" rx="21" ry="10"/><text class="s" x="302" y="853">COL21A1</text></g>
<g id="d-COL1A1"><ellipse class="r1" cx="346" cy="861" rx="21" ry="10"/><text class="s" x="346" y="861">COL1A1</text></g>
<g id="d-FBN2"><ellipse class="o2" cx="396" cy="868" rx="21" ry="10"/><text class="s" x="396" y="868">FBN2</text></g>
<g id="d-HAS2"><ellipse class="y1" cx="307" cy="873" rx="21" ry="10"/><text class="s" x="307" y="873">HAS2</text></g>
<g id="d-HAPLN1"><ellipse class="y1" cx="374" cy="883" rx="21" ry="10"/><text class="s" x="374" y="883">HAPLN1</text></g>
<g id="d-COL2A1"><ellipse class="r3" cx="336" cy="886" rx="21" ry="10"/><text class="s" x="336" y="886">COL2A1</text></g>
<g id="d-KCNJ2"><ellipse class="y1" cx="425" cy="887" rx="21" ry="10"/><text class="s" x="425" y="887">KCNJ2</text></g>
<g id="d-P4HA2"><ellipse class="o3" cx="297" cy="907" rx="21" ry="10"/><text class="s" x="297" y="907">P4HA2</text></g>
<g id="d-ADAMTS5"><ellipse class="o2" cx="358" cy="907" rx="21" ry="10"/><text class="s" x="358" y="907">ADAMTS5</text></g>
<g id="d-FBN1"><ellipse class="o2" cx="396" cy="906" rx="21" ry="10"/><text class="s" x="396" y="906">FBN1</text></g>
<g id="d-ADAMTS9"><ellipse class="y3" cx="333" cy="933" rx="21" ry="10"/><text class="s" x="333" y="933">ADAMTS9</text></g>
</g>
<text class="cap" x="355" y="965">MNC</text>

<!-- Panel E -->
<g id="panelE">
<g id="e-FURIN"><ellipse class="y1" cx="591" cy="722" rx="21" ry="10"/><text class="s" x="591" y="722">FURIN</text></g>
<g id="e-KCNJ2"><ellipse class="y1" cx="633" cy="731" rx="21" ry="10"/><text class="s" x="633" y="731">KCNJ2</text></g>
<g id="e-ADAMTS5"><ellipse class="o1" cx="575" cy="745" rx="21" ry="10"/><text class="s" x="575" y="745">ADAMTS5</text></g>
<g id="e-FBN1"><ellipse class="o2" cx="607" cy="759" rx="21" ry="10"/><text class="s" x="607" y="759">FBN1</text></g>
<g id="e-P4HA2"><ellipse class="o2" cx="642" cy="761" rx="21" ry="10"/><text class="s" x="642" y="761">P4HA2</text></g>
<g id="e-COL2A1"><ellipse class="r3" cx="569" cy="772" rx="21" ry="10"/><text class="s" x="569" y="772">COL2A1</text></g>
<g id="e-HAS2"><ellipse class="y1" cx="608" cy="780" rx="21" ry="10"/><text class="s" x="608" y="780">HAS2</text></g>
<g id="e-FBN2"><ellipse class="o2" cx="648" cy="782" rx="21" ry="10"/><text class="s" x="648" y="782">FBN2</text></g>
<g id="e-RUNX2"><ellipse class="r3" cx="548" cy="797" rx="21" ry="10"/><text class="s" x="548" y="797">RUNX2</text></g>
<g id="e-COL21A1"><ellipse class="y3" cx="625" cy="801" rx="21" ry="10"/><text class="s" x="625" y="801">COL21A1</text></g>
<g id="e-COL1A1"><ellipse class="r1" cx="588" cy="799" rx="21" ry="10"/><text class="s" x="588" y="799">COL1A1</text></g>
<g id="e-ZNF385A"><ellipse class="y3" cx="470" cy="821" rx="21" ry="10"/><text class="s" x="470" y="821">ZNF385A</text></g>
<g id="e-KPNA2"><ellipse class="y3" cx="524" cy="817" rx="21" ry="10"/><text class="s" x="524" y="817">KPNA2</text></g>
<g id="e-SPP1"><ellipse class="r2" cx="564" cy="815" rx="21" ry="10"/><text class="s" x="564" y="815">SPP1</text></g>
<g id="e-GJA1"><ellipse class="r3" cx="633" cy="821" rx="21" ry="10"/><text class="s" x="633" y="821">GJA1</text></g>
<g id="e-PRKCD"><ellipse class="o2" cx="591" cy="831" rx="21" ry="10"/><text class="s" x="591" y="831">PRKCD</text></g>
<g id="e-RUNX3"><ellipse class="y1" cx="527" cy="837" rx="21" ry="10"/><text class="s" x="527" y="837">RUNX3</text></g>
<g id="e-PDGFRA"><ellipse class="y1" cx="622" cy="843" rx="21" ry="10"/><text class="s" x="622" y="843">PDGFRA</text></g>
<g id="e-PRDM1"><ellipse class="o1" cx="485" cy="846" rx="21" ry="10"/><text class="s" x="485" y="846">PRDM1</text></g>
<g id="e-CXCR4"><ellipse class="r3" cx="566" cy="852" rx="21" ry="10"/><text class="s" x="566" y="852">CXCR4</text></g>
<g id="e-STAT3"><ellipse class="r1" cx="527" cy="860" rx="21" ry="10"/><text class="s" x="527" y="860">STAT3</text></g>
<g id="e-IRAK1"><ellipse class="o3" cx="610" cy="866" rx="21" ry="10"/><text class="s" x="610" y="866">IRAK1</text></g>
<g id="e-PIK3R1"><ellipse class="o1" cx="580" cy="873" rx="21" ry="10"/><text class="s" x="580" y="873">PIK3R1</text></g>
<g id="e-BCL2L11"><ellipse class="y1" cx="475" cy="875" rx="21" ry="10"/><text class="s" x="475" y="875">BCL2L11</text></g>
<g id="e-PDCD1"><ellipse class="y3" cx="525" cy="879" rx="21" ry="10"/><text class="s" x="525" y="879">PDCD1</text></g>
<g id="e-MAP2K3"><ellipse class="y1" cx="614" cy="892" rx="21" ry="10"/><text class="s" x="614" y="892">MAP2K3</text></g>
<g id="e-OSMR"><ellipse class="y3" cx="493" cy="897" rx="21" ry="10"/><text class="s" x="493" y="897">OSMR</text></g>
<g id="e-SOCS3"><ellipse class="o2" cx="553" cy="896" rx="21" ry="10"/><text class="s" x="553" y="896">SOCS3</text></g>
<g id="e-IL6R"><ellipse class="y1" cx="531" cy="912" rx="21" ry="10"/><text class="s" x="531" y="912">IL6R</text></g>
<g id="e-GDNF"><ellipse class="y3" cx="581" cy="914" rx="21" ry="10"/><text class="s" x="581" y="914">GDNF</text></g>
</g>
<text class="cap" x="583" y="965">Degree</text>

<!-- Panel F Venn -->
<g id="venn">
<ellipse id="v-MCC" cx="835" cy="845" rx="134" ry="99" transform="rotate(45 835 845)" fill="#227d22" fill-opacity="0.7"/>
<ellipse id="v-MNC" cx="889" cy="803" rx="141" ry="82" transform="rotate(45 889 803)" fill="#72a9da" fill-opacity="0.7"/>
<ellipse id="v-Degree" cx="893" cy="803" rx="141" ry="82" transform="rotate(-45 893 803)" fill="#ef6a76" fill-opacity="0.7"/>
<ellipse id="v-MCODE" cx="947" cy="845" rx="134" ry="99" transform="rotate(-45 947 845)" fill="#d1d341" fill-opacity="0.7"/>
<text x="782" y="681" style="font-size:10px;fill:#6aa6de">MNC</text>
<text x="980" y="681" style="font-size:10px;fill:#ef5d6c">Degree</text>
<text x="722" y="729" style="font-size:10px;fill:#2f8a2f">MCC</text>
<text x="1038" y="729" style="font-size:10px;fill:#cbcb3a">MCODE</text>
<text class="vb" x="812" y="722">1</text>
<text class="vb" x="958" y="722">1</text>
<text class="vb" x="786" y="768">3</text>
<text class="vb" x="890" y="745">2</text>
<text class="vn" x="995" y="768">0</text>
<text class="vn" x="748" y="820">0</text>
<text class="vb" x="825" y="805">17</text>
<text class="vn" x="954" y="805">0</text>
<text class="vn" x="1029" y="820">0</text>
<text class="vb" x="890" y="842">7</text>
<text class="vb" x="804" y="872">3</text>
<text class="vn" x="981" y="872">0</text>
<text class="vn" x="842" y="896">0</text>
<text class="vn" x="938" y="896">0</text>
<text class="vn" x="890" y="932">0</text>
</g>
</svg>
